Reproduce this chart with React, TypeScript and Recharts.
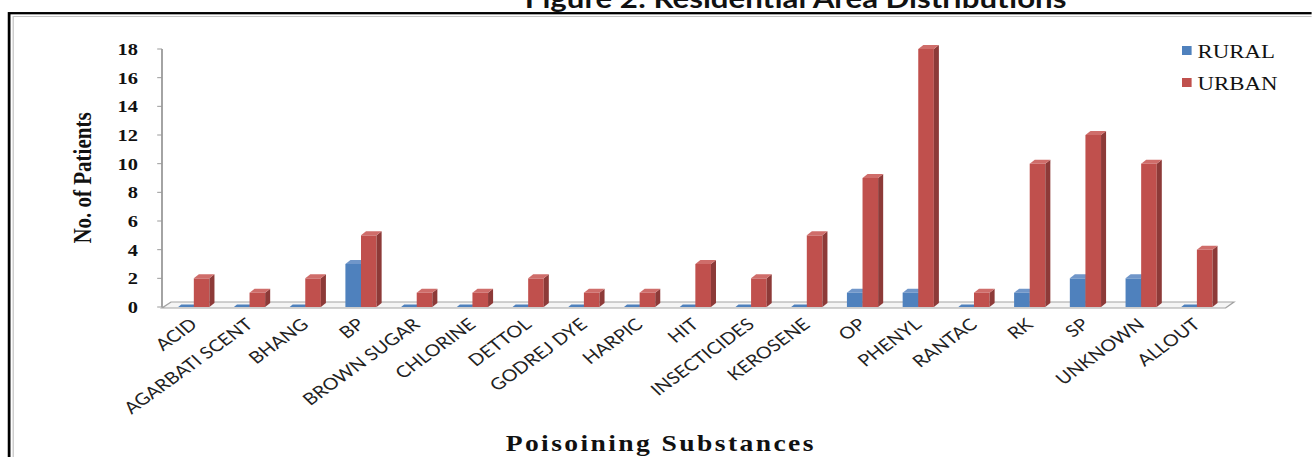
import React from "react";
import {
  BarChart,
  Bar,
  XAxis,
  YAxis,
  Legend,
  ReferenceLine,
} from "recharts";

// substances and patient counts by residential area
const categories = [
  "ACID",
  "AGARBATI SCENT",
  "BHANG",
  "BP",
  "BROWN SUGAR",
  "CHLORINE",
  "DETTOL",
  "GODREJ DYE",
  "HARPIC",
  "HIT",
  "INSECTICIDES",
  "KEROSENE",
  "OP",
  "PHENYL",
  "RANTAC",
  "RK",
  "SP",
  "UNKNOWN",
  "ALLOUT",
];
const rural = [0, 0, 0, 3, 0, 0, 0, 0, 0, 0, 0, 0, 1, 1, 0, 1, 2, 2, 0];
const urban = [2, 1, 2, 5, 1, 1, 2, 1, 1, 3, 2, 5, 9, 18, 1, 10, 12, 10, 4];
const yTicks = [0, 2, 4, 6, 8, 10, 12, 14, 16, 18];

const data = categories.map((name, i) => ({
  name,
  RURAL: rural[i],
  URBAN: urban[i],
}));

// the whole figure is drawn narrow and widened with a CSS scale
const STRETCH = 1.2;
const W = 1312 / STRETCH;
const H = 457;

const BLUE = { front: "#4F81BD", top: "#7096c9", side: "#37608f" };
const RED = { front: "#C0504D", top: "#cf6d6a", side: "#8d3a38" };

const DX = 4.2;
const DY = 4;
const SHIFT = 3.3;

const bar3d = (c: { front: string; top: string; side: string }) => (p: any) => {
  const x = p.x + SHIFT;
  const w = p.width;
  const h = Math.max(p.height || 0, 0);
  // zero values come through with minPointSize: draw them as a flat sliver
  if (h <= 1.5) {
    const y0 = p.y + h;
    return (
      <polygon
        points={`${x},${y0} ${x + DX * 0.6},${y0 - 2.5} ${x + w + DX * 0.6},${y0 - 2.5} ${x + w},${y0}`}
        fill={c.front}
      />
    );
  }
  const y = p.y;
  return (
    <g>
      <rect x={x} y={y} width={w} height={h} fill={c.front} />
      <polygon
        points={`${x + w},${y} ${x + w + DX},${y - DY} ${x + w + DX},${y + h - DY} ${x + w},${y + h}`}
        fill={c.side}
      />
      <polygon
        points={`${x},${y} ${x + DX},${y - DY} ${x + w + DX},${y - DY} ${x + w},${y}`}
        fill={c.top}
      />
    </g>
  );
};

const Floor = (p: any) => {
  const { x1, x2, y1 } = p;
  const pts = [
    [x1, y1 + 1],
    [x2 + 4, y1 + 1],
    [x2 + 11, y1 - 5],
    [x1 + 7.5, y1 - 5],
  ]
    .map((q) => q.join(","))
    .join(" ");
  return <polygon points={pts} fill="#f5f5f5" stroke="#a3a3a3" strokeWidth={1.2} />;
};

const XTick = (p: any) => {
  const { x, y, payload } = p;
  const ax = x + 7;
  const ay = y + 19;
  return (
    <text
      x={ax}
      y={ay}
      transform={`rotate(-41, ${ax}, ${ay})`}
      textAnchor="end"
      fontFamily="Lato, 'Noto Sans', sans-serif"
      fontSize={16.5}
      fill="#222"
    >
      {payload.value}
    </text>
  );
};

const LegendBox = (props: any) => {
  const items = props.payload || [];
  return (
    <div style={{ fontFamily: "'Liberation Serif', serif", fontSize: 19, color: "#111" }}>
      {items.map((it: any) => (
        <div
          key={it.value}
          style={{ display: "flex", alignItems: "center", height: 32, lineHeight: "32px" }}
        >
          <span
            style={{
              display: "inline-block",
              width: 8,
              height: 9,
              background: it.color,
              marginRight: 5,
              marginTop: -3,
            }}
          />
          {it.value}
        </div>
      ))}
    </div>
  );
};

export default function App() {
  return (
    <div
      style={{
        position: "absolute",
        left: 0,
        top: 0,
        width: 1312,
        height: H,
        overflow: "hidden",
        background: "#fff",
      }}
    >
      <div
        style={{
          position: "relative",
          width: W,
          height: H,
          transform: `scaleX(${STRETCH})`,
          transformOrigin: "0 0",
        }}
      >
        <svg
          width={W}
          height={H}
          style={{ position: "absolute", left: 0, top: 0 }}
        >
          <text
            x={663}
            y={8}
            textAnchor="middle"
            fontFamily="Lato, sans-serif"
            fontWeight="bold"
            fontSize={26}
            fill="#111"
          >
            Figure 2: Residential Area Distributions
          </text>
          <rect x={7.6} y={13.2} width={W + 20} height={H + 20} fill="none" stroke="#000" strokeWidth={2.3} />
          <rect x={11} y={16.5} width={W + 20} height={H + 20} fill="none" stroke="#c4c4c4" strokeWidth={1} />
        </svg>
        <div style={{ position: "absolute", left: 0, top: 0 }}>
          <BarChart
            width={W}
            height={H}
            data={data}
            margin={{ top: 49, right: 76, left: 35, bottom: 10 }}
            barCategoryGap="22%"
            barGap={0}
          >
            <XAxis
              dataKey="name"
              interval={0}
              axisLine={false}
              tickLine={false}
              tickSize={0}
              tickMargin={0}
              height={140}
              tick={<XTick />}
              label={{
                content: () => (
                  <text
                    x={W / 2 + 4}
                    y={451}
                    textAnchor="middle"
                    fontFamily="'Liberation Serif', serif"
                    fontWeight="bold"
                    fontSize={23}
                    letterSpacing={2}
                    fill="#111"
                  >
                    Poisoining Substances
                  </text>
                ),
              }}
            />
            <YAxis
              width={100}
              domain={[0, 18]}
              ticks={yTicks}
              interval={0}
              axisLine={{ stroke: "#9a9a9a", strokeWidth: 1.5 }}
              tickLine={{ stroke: "#9a9a9a" }}
              tickSize={4}
              tickMargin={16}
              tick={{
                fontFamily: "'Liberation Serif', serif",
                fontWeight: "bold",
                fontSize: 17,
                fill: "#111",
              }}
              label={{
                content: (lp: any) => {
                  const vb = lp.viewBox || {};
                  const lx = vb.x + 41;
                  const ly = vb.y + vb.height / 2;
                  return (
                    <text
                      x={lx}
                      y={ly}
                      transform={`rotate(-90, ${lx}, ${ly})`}
                      textAnchor="middle"
                      fontFamily="'Liberation Serif', serif"
                      fontWeight="bold"
                      fontSize={21}
                      fill="#111"
                    >
                      No. of Patients
                    </text>
                  );
                },
              }}
            />
            {/* floor of the 3D plot, kept under the bars */}
            <ReferenceLine y={0} shape={Floor} zIndex={-60} />
            <Legend
              layout="horizontal"
              verticalAlign="middle"
              align="center"
              content={<LegendBox />}
              wrapperStyle={{ position: "absolute", left: 985, top: 36, width: 110, height: 70 }}
            />
            <Bar
              dataKey="RURAL"
              fill={BLUE.front}
              shape={bar3d(BLUE)}
              minPointSize={1}
              isAnimationActive={false}
            />
            <Bar
              dataKey="URBAN"
              fill={RED.front}
              shape={bar3d(RED)}
              minPointSize={1}
              isAnimationActive={false}
            />
          </BarChart>
        </div>
      </div>
    </div>
  );
}
